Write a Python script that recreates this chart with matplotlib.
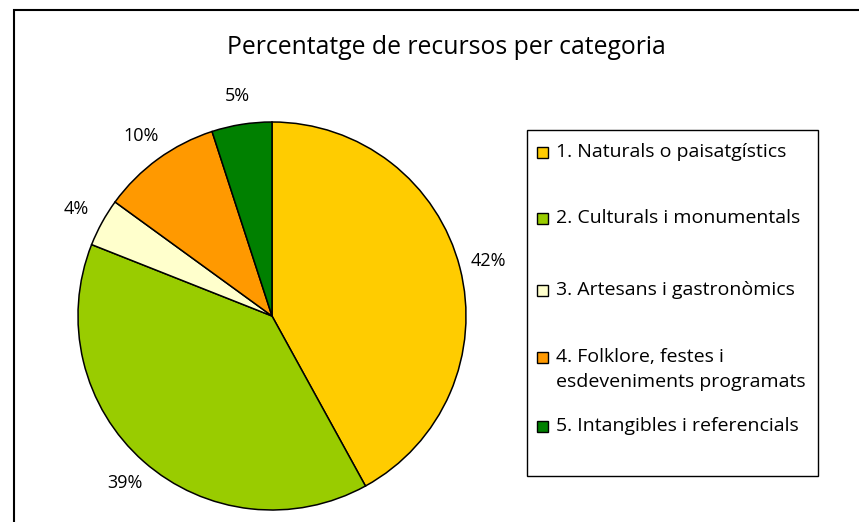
import matplotlib
matplotlib.use("Agg")
import matplotlib.pyplot as plt
from matplotlib.patches import Rectangle

title = "Percentatge de recursos per categoria"
categories = ["1. Naturals o paisatgístics",
              "2. Culturals i monumentals",
              "3. Artesans i gastronòmics",
              "4. Folklore, festes i\nesdeveniments programats",
              "5. Intangibles i referencials"]
values = [42, 39, 4, 10, 5]
colors = ["#FFCC00", "#99CC00", "#FFFFCC", "#FF9900", "#008000"]

FONT = "Open Sans"
plt.rcParams['font.family'] = [FONT, 'DejaVu Sans']

W, H = 859, 522
fig = plt.figure(figsize=(W / 100, H / 100), dpi=100)
fig.patch.set_facecolor("white")

# outer border (open to right/bottom, cropped)
fig.add_artist(Rectangle((14 / W, -0.1), 1.2, 1 - 10 / H + 0.1,
                         transform=fig.transFigure, fill=False,
                         edgecolor="black", linewidth=1.5))

# pie axes: centre (272,316) px, radius 194 px
cx, cy, R = 272, 316, 194
pad = 1.05
ax = fig.add_axes([(cx - R * pad) / W, (H - cy - R * pad) / H,
                   2 * R * pad / W, 2 * R * pad / H])
wedges, texts, autotexts = ax.pie(
    values, colors=colors, startangle=90, counterclock=False,
    autopct=lambda p: f"{p:.0f}%", pctdistance=1.15,
    wedgeprops=dict(edgecolor="black", linewidth=1.1),
    textprops=dict(fontsize=13, color="black"))
ax.set_xlim(-pad, pad)
ax.set_ylim(-pad, pad)
ax.set_aspect("equal")
ax.axis("off")

fig.text(446 / W, 1 - 47 / H, title, ha="center", va="center",
         fontsize=17.8, color="black")

# legend box
lx0, ly0, lx1, ly1 = 527, 130, 818, 476
fig.add_artist(Rectangle((lx0 / W, 1 - ly1 / H), (lx1 - lx0) / W,
                         (ly1 - ly0) / H, transform=fig.transFigure,
                         fill=False, edgecolor="black", linewidth=1.0))
entry_y = [152, 218, 290, 357, 426]
sq = 11
for lab, col, y in zip(categories, colors, entry_y):
    fig.add_artist(Rectangle(((537) / W, 1 - (y + sq / 2) / H), sq / W, sq / H,
                             transform=fig.transFigure, facecolor=col,
                             edgecolor="black", linewidth=1.0))
    lines = lab.split("\n")
    for i, ln in enumerate(lines):
        fig.text(556 / W, 1 - (y + i * 25) / H, ln, ha="left", va="center",
                 fontsize=14, color="black")

fig.savefig("out.png", dpi=100, facecolor="white")
